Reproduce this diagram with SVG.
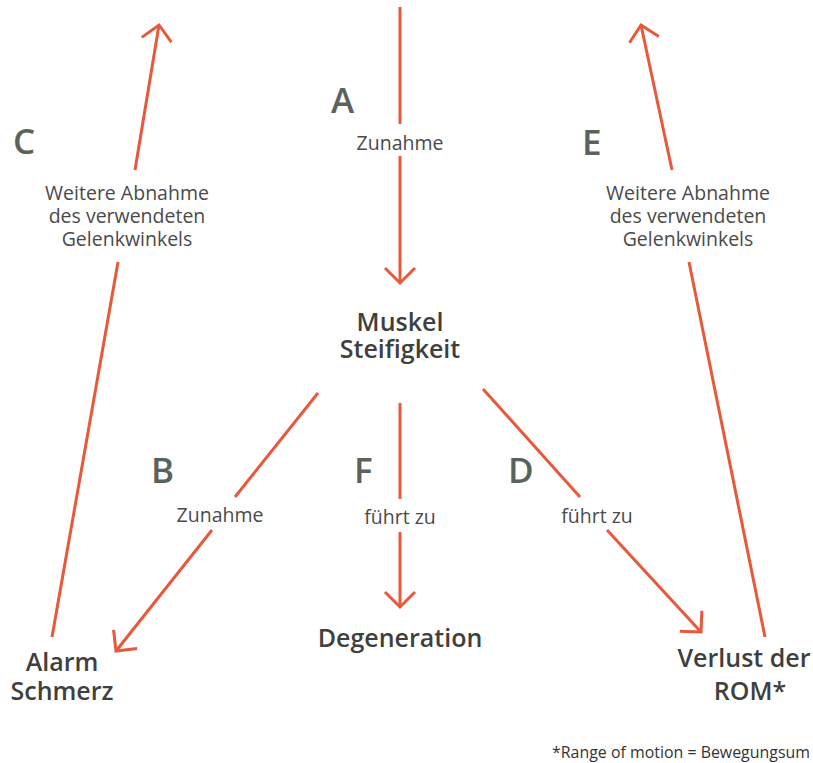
<svg xmlns="http://www.w3.org/2000/svg" width="813" height="763" viewBox="0 0 813 763">
<defs>
<marker id="arr" markerUnits="userSpaceOnUse" markerWidth="40" markerHeight="40" viewBox="-20 -20 40 40" refX="0" refY="0" orient="auto">
<path d="M-15,-15 L0,0 L-15,15" fill="none" stroke="#e8583a" stroke-width="3" stroke-linecap="butt"/>
</marker>
</defs>
<style>
.ln{stroke:#e8583a;stroke-width:3;fill:none}
.lt{font-family:"Open Sans","Liberation Sans",sans-serif;font-size:35px;font-weight:600;fill:#5b625c}
.sm{font-family:"Open Sans","Liberation Sans",sans-serif;font-size:19.5px;fill:#4a4a4a;text-anchor:middle}
.nd{font-family:"Open Sans","Liberation Sans",sans-serif;font-size:25px;font-weight:600;fill:#3f3f3f;text-anchor:middle}
.fn{font-family:"Open Sans","Liberation Sans",sans-serif;font-size:16px;fill:#333}
</style>
<rect width="813" height="763" fill="#fff"/>
<g id="connectors">
<line class="ln" x1="400" y1="7" x2="400" y2="124"/>
<line class="ln" x1="400" y1="156" x2="400" y2="283" marker-end="url(#arr)"/>
<line class="ln" x1="52" y1="637" x2="118" y2="262"/>
<line class="ln" x1="135" y1="170" x2="159" y2="25" marker-end="url(#arr)"/>
<line class="ln" x1="765" y1="637" x2="689" y2="262"/>
<line class="ln" x1="672" y1="170" x2="641" y2="25" marker-end="url(#arr)"/>
<line class="ln" x1="318" y1="393" x2="235" y2="497"/>
<line class="ln" x1="212" y1="530" x2="116" y2="651" marker-end="url(#arr)"/>
<line class="ln" x1="400" y1="403" x2="400" y2="499"/>
<line class="ln" x1="400" y1="532" x2="400" y2="607" marker-end="url(#arr)"/>
<line class="ln" x1="483" y1="389" x2="580" y2="497"/>
<line class="ln" x1="607" y1="530" x2="701" y2="632" marker-end="url(#arr)"/>
</g>
<g id="label-A"><text class="lt" x="331" y="113">A</text><text class="sm" x="400" y="150">Zunahme</text></g>
<g id="label-C"><text class="lt" x="13" y="154">C</text>
<text class="sm" x="127" y="200">Weitere Abnahme<tspan x="127" dy="23">des verwendeten</tspan><tspan x="127" dy="23">Gelenkwinkels</tspan></text></g>
<g id="label-E"><text class="lt" x="582" y="155">E</text>
<text class="sm" x="688" y="200">Weitere Abnahme<tspan x="688" dy="23">des verwendeten</tspan><tspan x="688" dy="23">Gelenkwinkels</tspan></text></g>
<g id="node-muskel"><text class="nd" x="400" y="331">Muskel<tspan x="400" dy="27">Steifigkeit</tspan></text></g>
<g id="label-B"><text class="lt" x="151" y="483">B</text><text class="sm" x="220" y="522">Zunahme</text></g>
<g id="label-F"><text class="lt" x="354" y="483">F</text><text class="sm" x="400" y="524">führt zu</text></g>
<g id="label-D"><text class="lt" x="508" y="483">D</text><text class="sm" x="597" y="523">führt zu</text></g>
<g id="node-degeneration"><text class="nd" x="400" y="647">Degeneration</text></g>
<g id="node-alarm"><text class="nd" x="62" y="671">Alarm<tspan x="62" dy="29">Schmerz</tspan></text></g>
<g id="node-rom"><text class="nd" x="744" y="667">Verlust der<tspan x="750" dy="33">ROM*</tspan></text></g>
<g id="footnote"><text class="fn" x="552" y="758" textLength="258" lengthAdjust="spacingAndGlyphs">*Range of motion = Bewegungsum</text></g>
</svg>
